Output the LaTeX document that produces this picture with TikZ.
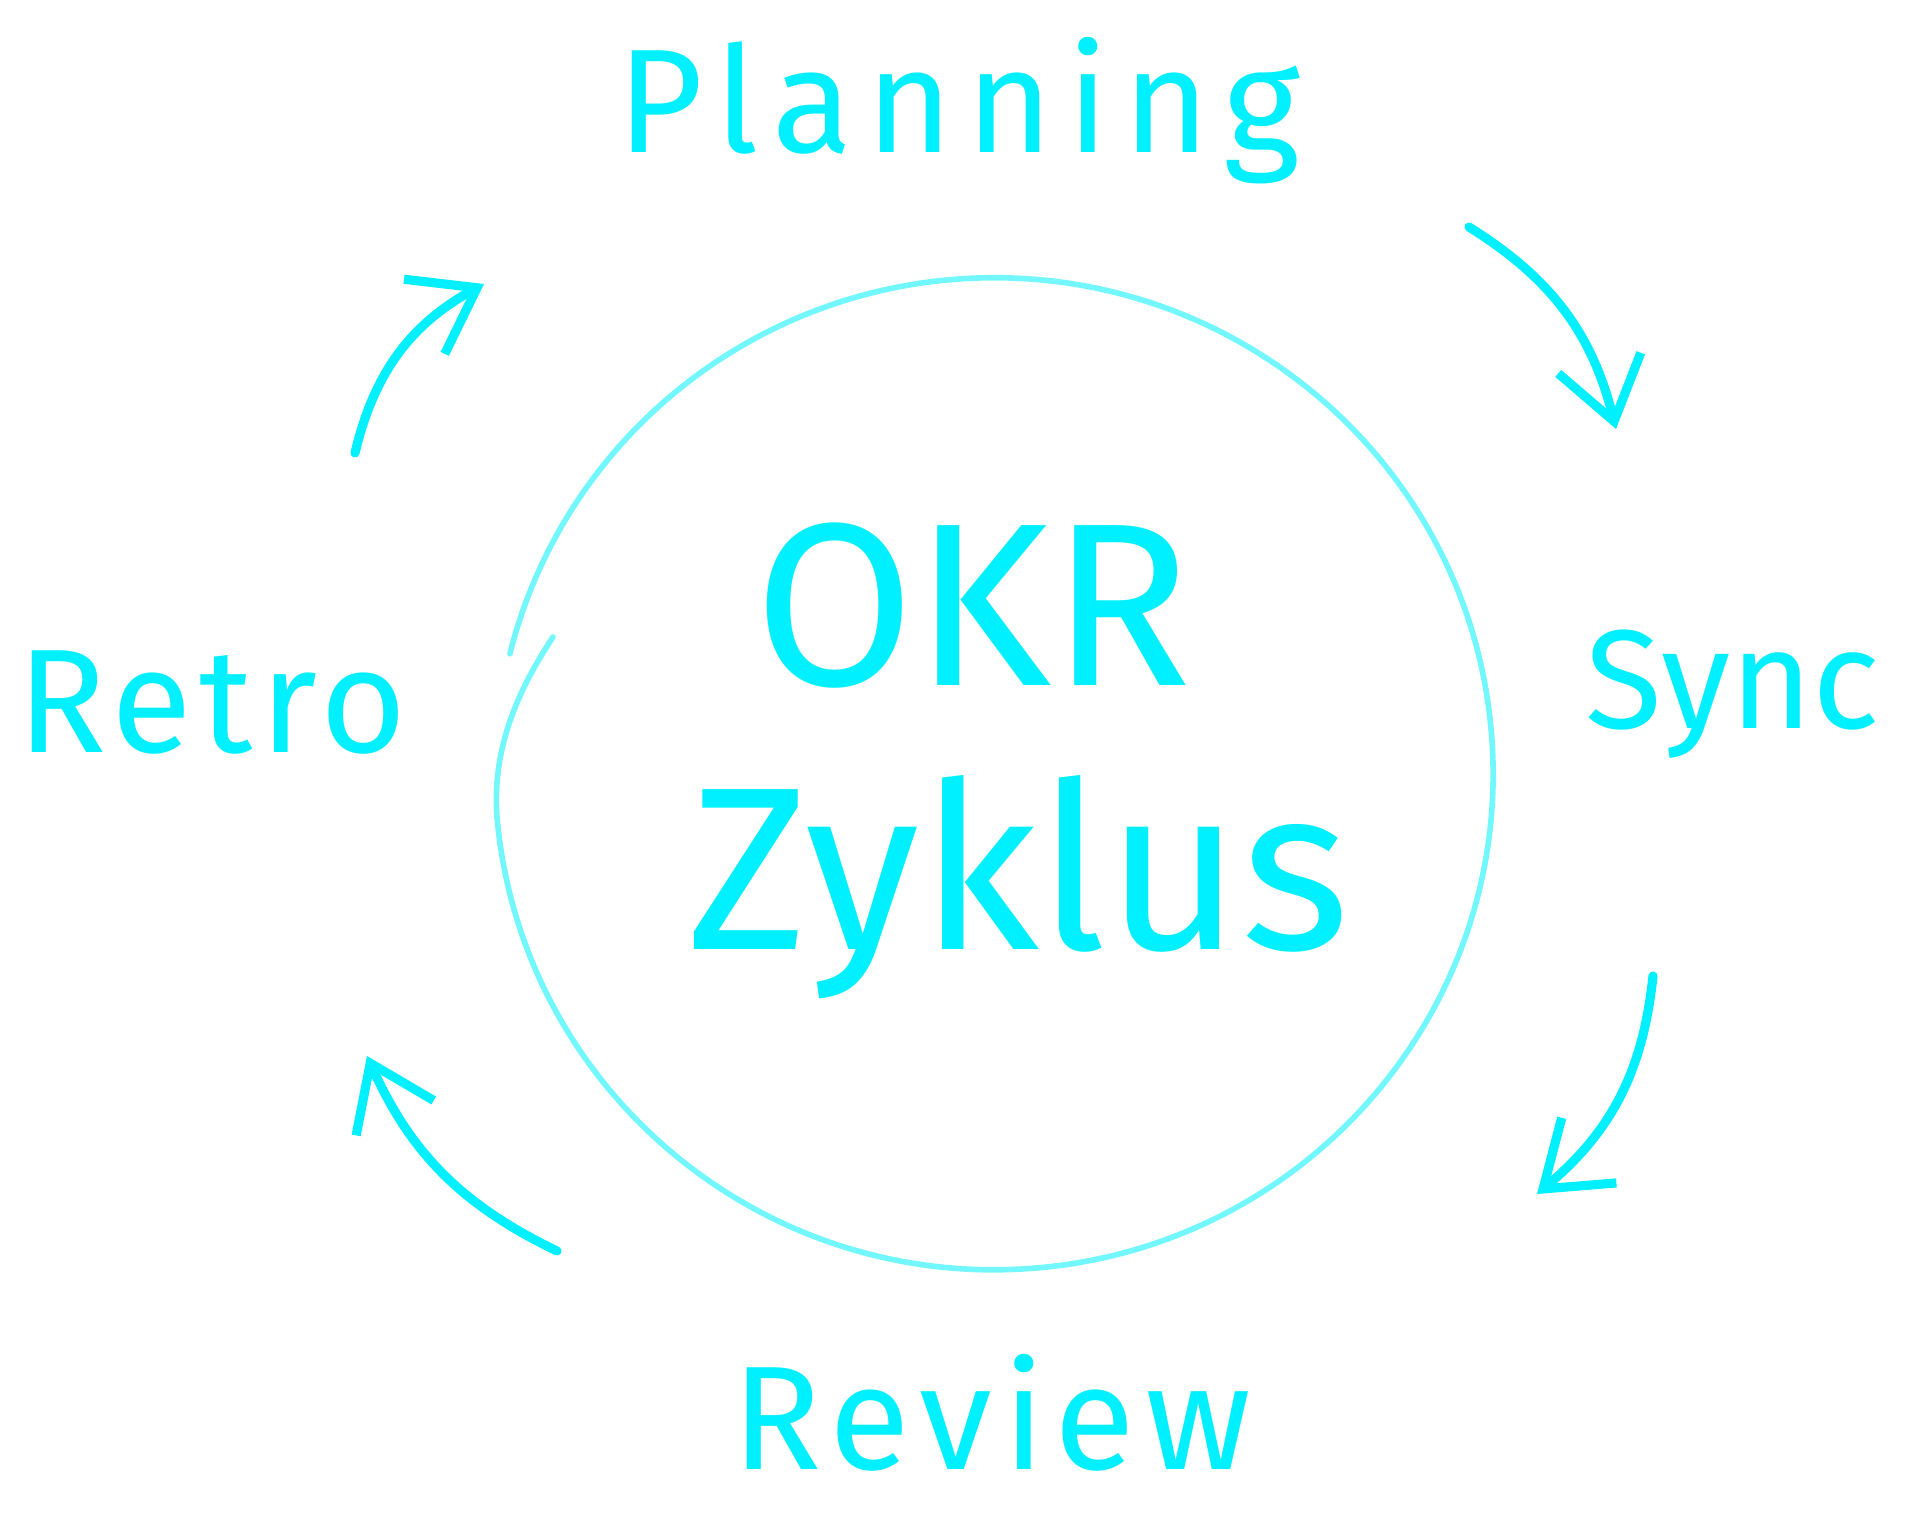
\documentclass[tikz,border=0pt]{standalone}
\usepackage{fontspec}
\setmainfont{Fira Sans}
\usepackage{xcolor}
\usepackage{tikz}
\usetikzlibrary{arrows.meta, positioning}

\definecolor{okrcyan}{HTML}{00F0FF}

\begin{document}
\begin{tikzpicture}[
    x=0.01cm, y=0.01cm,
    phase/.style={text=okrcyan, anchor=base, inner sep=0pt,
        font=\fontsize{42}{46}\selectfont},
    core/.style={text=okrcyan, anchor=base, inner sep=0pt,
        font=\fontsize{66}{72}\selectfont},
    arr/.style={draw=okrcyan, line width=2.6pt, line cap=round, line join=round,
        -{Straight Barb[length=6mm, width=8.5mm]}},
    ring/.style={draw=okrcyan!55, line width=1.6pt, line cap=round}
]
\useasboundingbox (0,0) rectangle (1920,1538);

% ring, open on the upper left
\draw[ring] (553,901) .. controls (518,848) and (492,790) .. (497,721)
    arc[start angle=185, end angle=526, x radius=499, y radius=496];

\node[core] (okr) at (973,852) {OKR};
\node[core] (zyk) at (1019,589) {Zyklus};

\node[phase] (plan) at (959,1385) {\addfontfeature{LetterSpace=9.5}Planning};
\node[phase, font=\fontsize{40}{44}\selectfont] (sync) at (1733,809) {Sync};
\node[phase] (rev) at (992,69) {\addfontfeature{LetterSpace=7}Review};
\node[phase] (retro) at (212,785) {\addfontfeature{LetterSpace=5}Retro};

% free arrow ends between the phases
\coordinate (p1) at (1469,1311);
\coordinate (p2) at (1616,1109);
\coordinate (s1) at (1653,562);
\coordinate (s2) at (1537,344);
\coordinate (r1) at (557,287);
\coordinate (r2) at (367,482);
\coordinate (t1) at (355,1085);
\coordinate (t2) at (484,1254);

\draw[arr] (p1) to[bend left=22] (p2);
\draw[arr] (s1) to[bend left=22] (s2);
\draw[arr] (r1) to[bend left=20] (r2);
\draw[arr] (t1) to[bend left=24] (t2);
\end{tikzpicture}
\end{document}
